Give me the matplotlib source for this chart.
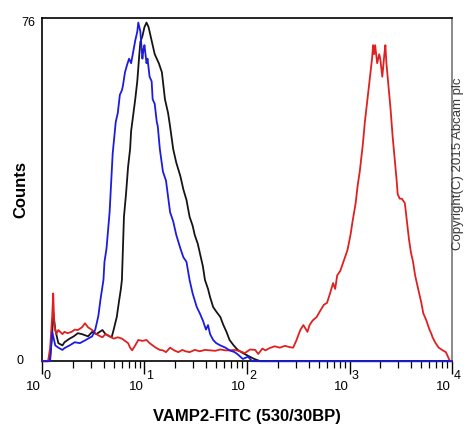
import matplotlib
matplotlib.use('agg')
import matplotlib.pyplot as plt
import numpy as np

# =============================================================================
# Data (log10 of intensity, counts)
# =============================================================================

blue_log = [0.00, 0.03, 0.08, 0.10, 0.13, 0.16, 0.20, 0.22, 0.27, 0.32, 0.37, 0.42,
            0.45, 0.49, 0.52, 0.55, 0.57, 0.60, 0.61, 0.63, 0.66, 0.69, 0.72, 0.74,
            0.76, 0.78, 0.79, 0.81, 0.83, 0.85, 0.87, 0.89, 0.91, 0.93, 0.94, 0.96,
            0.98, 0.99, 1.00, 1.02, 1.03, 1.05, 1.07, 1.08, 1.10, 1.12, 1.13, 1.15,
            1.18, 1.21, 1.25, 1.28, 1.31, 1.35, 1.38, 1.41, 1.44, 1.47, 1.51, 1.54,
            1.57, 1.60, 1.62, 1.64, 1.67, 1.70, 1.74, 1.79, 1.83, 1.88, 1.91, 1.96,
            2.01, 2.05, 2.50, 3.00, 3.50, 4.00]
blue_cnt = [0, 0, 0, 6.5, 3.5, 3.0, 2.5, 2.9, 3.5, 4.2, 4.0, 4.6,
            5.0, 5.5, 7.0, 10, 13.5, 18, 22, 25, 33, 46, 53, 55,
            59, 60, 61, 64, 65.6, 67, 66, 68.5, 71, 73, 75, 73,
            67, 69, 70, 66, 67, 63, 62, 58, 57, 53, 52, 47,
            42, 40, 33, 31, 28, 25, 23, 22, 18, 15, 12, 10.6,
            9, 7, 8, 6, 4.7, 4, 3.5, 3, 2.4, 2, 1.5, 0.5,
            1, 0, 0, 0, 0, 0]

black_log = [0.00, 0.06, 0.08, 0.10, 0.11, 0.13, 0.16, 0.20, 0.22, 0.27, 0.31, 0.35,
             0.39, 0.45, 0.49, 0.53, 0.59, 0.62, 0.66, 0.68, 0.70, 0.73, 0.75, 0.77,
             0.78, 0.79, 0.80, 0.82, 0.84, 0.86, 0.87, 0.89, 0.91, 0.93, 0.95, 0.96,
             0.98, 1.00, 1.02, 1.04, 1.06, 1.08, 1.10, 1.12, 1.14, 1.17, 1.20, 1.23,
             1.25, 1.28, 1.31, 1.35, 1.38, 1.41, 1.44, 1.47, 1.49, 1.52, 1.54, 1.57,
             1.59, 1.62, 1.64, 1.67, 1.70, 1.74, 1.77, 1.80, 1.83, 1.87, 1.91, 1.96,
             2.01, 2.07, 2.13, 3.00, 4.00]
black_cnt = [0, 0, 1, 6, 11, 7, 4, 3.5, 4.2, 5, 5.5, 6.2,
             6, 5.5, 6.5, 6, 6.9, 6, 5.5, 5.3, 7, 9.8, 13, 16,
             18, 25, 32, 37, 43, 47, 51, 54.5, 58, 62, 68, 70.7,
             72, 74, 75, 74, 72, 70, 68, 67, 66, 64, 58, 55,
             52, 47, 44, 41, 38, 35.7, 32, 30, 28, 26, 24, 21,
             18, 16, 14.2, 12, 11, 9.8, 8, 6.5, 4.7, 3.5, 2.5, 1.8,
             1.2, 0.5, 0, 0, 0]

red_log = [0.00, 0.06, 0.08, 0.10, 0.11, 0.12, 0.14, 0.16, 0.20, 0.22, 0.25, 0.29,
           0.32, 0.35, 0.39, 0.42, 0.45, 0.49, 0.53, 0.57, 0.59, 0.62, 0.66, 0.70,
           0.74, 0.78, 0.81, 0.84, 0.86, 0.88, 0.91, 0.94, 0.98, 1.02, 1.05, 1.08,
           1.11, 1.15, 1.18, 1.21, 1.25, 1.29, 1.33, 1.37, 1.40, 1.44, 1.49, 1.54,
           1.59, 1.64, 1.69, 1.74, 1.79, 1.83, 1.88, 1.93, 1.98, 2.03, 2.08, 2.11,
           2.15, 2.18, 2.22, 2.27, 2.32, 2.37, 2.42, 2.45, 2.48, 2.52, 2.55, 2.59,
           2.61, 2.64, 2.68, 2.71, 2.75, 2.78, 2.81, 2.84, 2.86, 2.88, 2.91, 2.94,
           2.98, 3.01, 3.03, 3.06, 3.08, 3.10, 3.13, 3.15, 3.17, 3.19, 3.20, 3.22,
           3.23, 3.24, 3.25, 3.27, 3.29, 3.30, 3.32, 3.34, 3.35, 3.36, 3.38, 3.40,
           3.41, 3.42, 3.44, 3.46, 3.47, 3.49, 3.51, 3.54, 3.56, 3.58, 3.60, 3.62,
           3.64, 3.67, 3.70, 3.72, 3.75, 3.78, 3.80, 3.81, 3.84, 3.87, 3.91, 3.94,
           3.96, 3.98, 4.00]
red_cnt = [0, 0, 3, 10, 15, 8, 6, 6.9, 6, 6.5, 6.2, 6.5,
           7, 6.9, 7.5, 8.4, 7.5, 6.9, 6, 5.5, 5.3, 6, 5.5, 5,
           5.3, 5, 4.5, 4, 3, 2.4, 3.5, 4.7, 4.5, 4.7, 4, 3.5,
           3, 2.5, 2.4, 2, 3, 2.4, 2, 2.5, 2.2, 2, 2.5, 2.2,
           2.5, 2.4, 2.3, 2.6, 2.4, 2.4, 2.5, 2.2, 1.8, 2.6, 2.5, 1.6,
           2.8, 2.4, 2.9, 3.3, 3.0, 3.4, 3.1, 3.0, 4.5, 6.9, 8, 6.5,
           8, 9, 9.8, 11, 12.5, 12.9, 15, 17.3, 16, 19, 20, 22,
           24.6, 28, 31, 35, 39, 42, 48, 53, 57, 61, 63, 67,
           70, 68, 70, 66, 68, 67, 63, 68, 70, 66, 61, 56,
           53, 50, 45, 40, 37, 36, 36, 35, 31, 27, 24, 22,
           19, 16, 13, 10.6, 9, 7, 6, 5.3, 4, 3, 2.4, 2,
           1, 0, 0]

decades = [0, 1, 2, 3, 4]

# =============================================================================
# Plot
# =============================================================================

plt.rcParams['font.family'] = ['Liberation Sans', 'DejaVu Sans']

fig = plt.figure(figsize=(4.66, 4.30), dpi=100)
ax = fig.add_axes([0.090, 0.160, 0.880, 0.798])

lw = 1.3
ax.plot(10 ** np.array(black_log), black_cnt, color='#151515', lw=lw,
        clip_on=False, zorder=3)
ax.plot(10 ** np.array(red_log), red_cnt, color='#e02020', lw=lw,
        clip_on=False, zorder=4)
ax.plot(10 ** np.array(blue_log), blue_cnt, color='#1c1ce0', lw=lw,
        clip_on=False, zorder=5)

ax.set_xscale('log')
ax.set_xlim(1, 1e4)
ax.set_ylim(0, 76)

for s in ax.spines.values():
    s.set_linewidth(1.2)
ax.spines['right'].set_color('#777777')

# y axis: only 0 and 76 written, no tick marks
ax.set_yticks([])
ax.text(-0.015, 0.985, '76', transform=ax.transAxes, ha='right', va='center', fontsize=9)
ax.text(-0.045, 0.0, '0', transform=ax.transAxes, ha='right', va='center', fontsize=9)

# x axis ticks, labels like "10" with exponent beside
ax.set_xticks([10.0 ** d for d in decades])
ax.set_xticklabels([])
ax.tick_params(axis='x', which='major', direction='out', length=9, width=1.0)
ax.tick_params(axis='x', which='minor', direction='out', length=5, width=0.9)
ax.xaxis.set_minor_locator(matplotlib.ticker.LogLocator(base=10, subs=np.arange(2, 10)))
ax.xaxis.set_minor_formatter(matplotlib.ticker.NullFormatter())
for d in decades:
    ax.annotate('10', xy=(10.0 ** d, 0), xycoords=('data', 'axes fraction'),
                xytext=(-1, -26), textcoords='offset pixels', ha='right', va='center',
                fontsize=9.5)
    ax.annotate(str(d), xy=(10.0 ** d, 0), xycoords=('data', 'axes fraction'),
                xytext=(2, -15), textcoords='offset pixels', ha='left', va='center',
                fontsize=9)

ax.set_xlabel('VAMP2-FITC (530/30BP)', fontsize=12, fontweight='bold', labelpad=22)
ax.set_ylabel('Counts', fontsize=12, fontweight='bold', labelpad=10)

fig.text(0.982, 0.62, 'Copyright(C) 2015 Abcam plc', rotation=90, ha='center',
         va='center', fontsize=9.5, color='#3a3a3a')

fig.savefig('out.png', dpi=100)
